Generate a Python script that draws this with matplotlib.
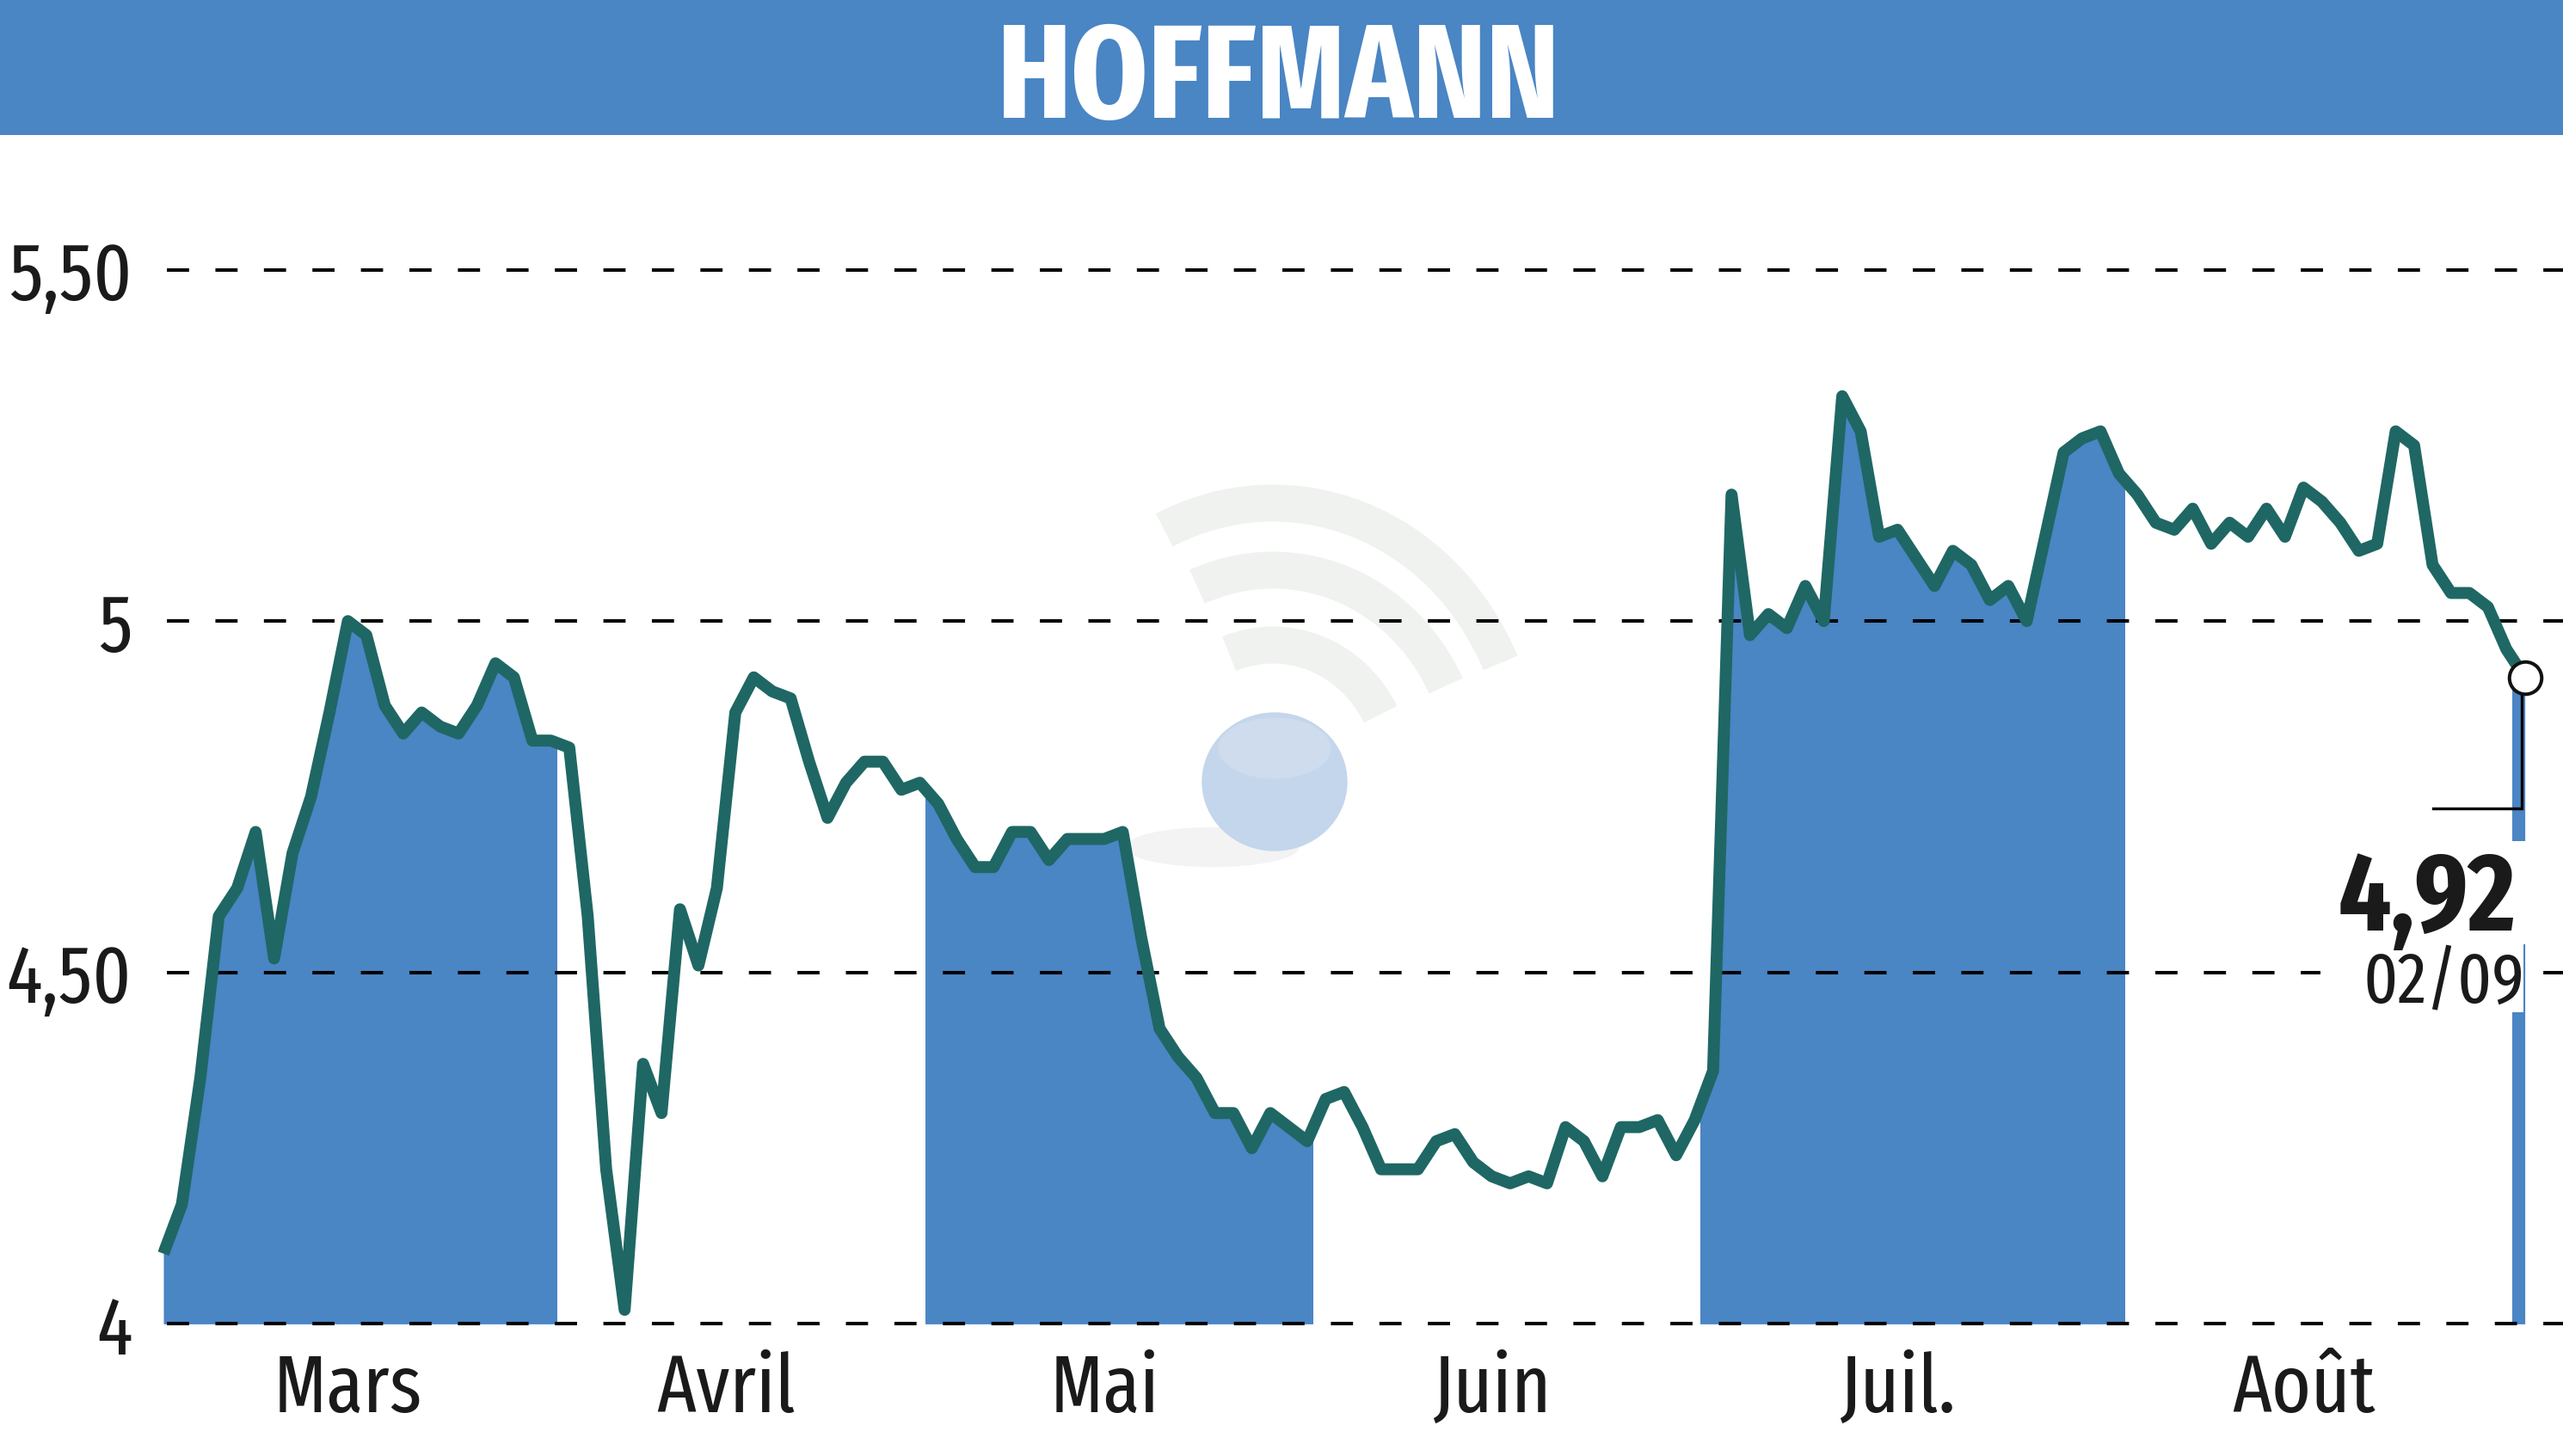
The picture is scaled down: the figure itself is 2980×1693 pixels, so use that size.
import os
import matplotlib
matplotlib.use('Agg')
import matplotlib.pyplot as plt
from matplotlib import font_manager
from matplotlib.font_manager import FontProperties
from matplotlib.patches import Rectangle, Arc, Ellipse
import numpy as np

# trading days per month, Mars -> 2 Sept
months = ['Mars', 'Avril', 'Mai', 'Juin', 'Juil.', 'Août', 'Sept.']
month_days = [21, 20, 21, 21, 23, 21, 2]

prices = [
    # Mars
    4.10, 4.17, 4.35, 4.58, 4.62, 4.70, 4.52, 4.67, 4.75, 4.87,
    5.00, 4.98, 4.88, 4.84, 4.87, 4.85, 4.84, 4.88, 4.94, 4.92, 4.83,
    # Avril
    4.83, 4.82, 4.58, 4.22, 4.02, 4.37, 4.30, 4.59, 4.51, 4.62,
    4.87, 4.92, 4.90, 4.89, 4.80, 4.72, 4.77, 4.80, 4.80, 4.76,
    # Mai
    4.77, 4.74, 4.69, 4.65, 4.65, 4.70, 4.70, 4.66, 4.69, 4.69,
    4.69, 4.70, 4.55, 4.42, 4.38, 4.35, 4.30, 4.30, 4.25, 4.30, 4.28,
    # Juin
    4.26, 4.32, 4.33, 4.28, 4.22, 4.22, 4.22, 4.26, 4.27, 4.23,
    4.21, 4.20, 4.21, 4.20, 4.28, 4.26, 4.21, 4.28, 4.28, 4.29, 4.24,
    # Juil.
    4.29, 4.36, 5.18, 4.98, 5.01, 4.99, 5.05, 5.00, 5.32, 5.27,
    5.12, 5.13, 5.09, 5.05, 5.10, 5.08, 5.03, 5.05, 5.00, 5.12,
    5.24, 5.26, 5.27,
    # Août
    5.21, 5.18, 5.14, 5.13, 5.16, 5.11, 5.14, 5.12, 5.16, 5.12,
    5.19, 5.17, 5.14, 5.10, 5.11, 5.27, 5.25, 5.08, 5.04, 5.04, 5.02,
    # Sept.
    4.96, 4.92,
]

y_ticks = [4, 4.5, 5, 5.5]
y_labels = ['4', '4,50', '5', '5,50']
title = 'HOFFMANN'
last_label = '4,92'
last_date = '02/09'

blue = '#4a85c4'
teal = '#1f6764'
ink = '#1a1a1a'


# --- pick the narrowest proportional sans font we have -------------------
def narrow_rank(path):
    b = os.path.basename(path).lower().replace(' ', '').replace('-', '').replace('_', '')
    if 'mono' in b or 'italic' in b or 'oblique' in b or 'code' in b:
        return 0
    if 'serif' in b and 'sans' not in b:
        return 0
    if 'extracondensed' in b or 'ultracondensed' in b:
        return 3
    if 'semicondensed' in b:
        return 1
    if 'condensed' in b or 'narrow' in b:
        return 2
    return 0


def usable(path):
    try:
        f = font_manager.get_font(path)
        if not all(f.get_char_index(ord(c)) for c in 'HOFMANJûil0123456789,/'):
            return False
        f.set_size(100, 72)
        adv_i = f.load_char(ord('i')).linearHoriAdvance
        adv_m = f.load_char(ord('M')).linearHoriAdvance
        return adv_m > 1.4 * adv_i  # skip monospaced faces
    except Exception:
        return False


def weight_num(w):
    if isinstance(w, (int, float)):
        return w
    return font_manager.weight_dict.get(w, 400)


def pick_font(bold):
    target = 700 if bold else 400
    best = None
    for f in font_manager.fontManager.ttflist:
        r = narrow_rank(f.fname)
        if r == 0 or f.style != 'normal':
            continue
        if not usable(f.fname):
            continue
        score = (r, 'Sans' in f.name, -abs(weight_num(f.weight) - target), -len(f.name))
        if best is None or score > best[0]:
            best = (score, f.fname)
    if best:
        return best[1]
    return font_manager.findfont(FontProperties(family='Roboto', weight='bold' if bold else 'normal'))


reg_path = pick_font(False)
bold_path = pick_font(True)


def cap_ratio(path):
    f = font_manager.get_font(path)
    f.set_size(1000, 72)
    g = f.load_char(ord('H'))
    return g.height / 64 / 1000


def ink_width(path, s, pt):
    f = font_manager.get_font(path)
    f.set_size(pt, 100)
    f.set_text(s)
    return f.get_width_height()[0] / 64


def fit(path, s, cap_px, width_px, max_w=None):
    # size from cap height, shrunk part way when the font is wider than the original
    pt = cap_px / cap_ratio(path) * 0.72
    w = ink_width(path, s, pt)
    k = min(1.0, (width_px / w) ** 0.6)
    if max_w:
        k = min(k, max_w / w)
    return pt * k


fp_y = FontProperties(fname=reg_path, size=fit(reg_path, '5,50', 77, 128, max_w=145))
fp_x = FontProperties(fname=reg_path, size=fit(reg_path, 'Mars', 75, 158))
fp_title = FontProperties(fname=bold_path, size=fit(bold_path, title, 112, 637))
fp_last = FontProperties(fname=bold_path, size=fit(bold_path, last_label, 92, 203))
fp_date = FontProperties(fname=reg_path, size=fit(reg_path, last_date, 65, 173))

W, H = 2980, 1693
fig = plt.figure(figsize=(W / 100, H / 100), dpi=100)

# title bar
bar_h = 157
fig.add_artist(Rectangle((0, 1 - bar_h / H), 1, bar_h / H, transform=fig.transFigure,
                         facecolor=blue, edgecolor='none', zorder=0))
fig.text(0.499, 1 - 137 / H, title, ha='center', va='baseline', color='white',
         fontproperties=fp_title)

# plot area (pixels measured on the reference)
left_px, bottom_px, top_px = 184, 1539.4, 158
ax = fig.add_axes([left_px / W, 1 - bottom_px / H, 1 - left_px / W, (bottom_px - top_px) / H])
px_per_day = 21.45
first_px = 190
px_per_unit = 817.2

x = np.arange(len(prices))
ax.set_xlim((left_px - first_px) / px_per_day, (W - first_px) / px_per_day)
ax.set_ylim(4, 4 + (bottom_px - top_px) / px_per_unit)

# alternate month shading
starts = np.cumsum([0] + month_days[:-1])
for i in range(0, len(months), 2):
    x0 = ax.get_xlim()[0] if i == 0 else starts[i] + 0.3
    x1 = starts[i + 1] + 0.3 if i + 1 < len(months) else x[-1] + 0.1
    poly = ax.fill_between(x, prices, 4, color=blue, lw=0, zorder=1)
    poly.set_clip_path(Rectangle((x0, 4), x1 - x0, 2, transform=ax.transData))

# grid
for yv in y_ticks:
    ax.axhline(yv, color='black', lw=2.9, linestyle=(11.5, (6.4, 7.6)),
               zorder=2, clip_on=False)


# watermark
def px(xp, yp):
    return (xp / 100, (H - yp) / 100)


wm = '#f0f2f0'
for (w, h, t1, t2) in [(5.8, 6.3, 26, 114), (4.46, 4.74, 27, 112), (2.82, 3.0, 29, 110)]:
    ax.add_patch(Arc(px(1480, 900), w, h, theta1=t1, theta2=t2, lw=31, color=wm,
                     transform=fig.dpi_scale_trans, zorder=0.5))
ax.add_patch(Ellipse(px(1410, 985), 2.0, 0.45, color='#f3f3f3',
                     transform=fig.dpi_scale_trans, zorder=0.5))
ax.add_patch(Ellipse(px(1482, 909), 1.68, 1.60, color='#c3d6ec',
                     transform=fig.dpi_scale_trans, zorder=0.6))
ax.add_patch(Ellipse(px(1482, 870), 1.30, 0.70, color='#cedcee',
                     transform=fig.dpi_scale_trans, zorder=0.6))

# price line
ax.plot(x, prices, color=teal, lw=10, solid_joinstyle='round', solid_capstyle='butt', zorder=3)

# last value marker and label
xl, yl = x[-1], prices[-1]
ax.plot([xl - 0.15, xl - 0.15, xl - 4.95], [yl, yl - 0.186, yl - 0.186],
        color='black', lw=2.4, zorder=4, solid_joinstyle='miter')
ax.plot(xl, yl, 'o', ms=27, mfc='white', mec='#111111', mew=2.9, zorder=5)
ax.add_patch(Rectangle((117.0, 4.540), 11.2, 0.147, facecolor='white', edgecolor='none', zorder=4))
ax.add_patch(Rectangle((116.9, 4.4436), 11.03, 0.0964, facecolor='white', edgecolor='none', zorder=4))
ax.text(xl - 0.5, 4.5598, last_label, ha='right', va='baseline', color=ink, zorder=6,
        fontproperties=fp_last)
ax.text(xl, 4.456, last_date, ha='right', va='baseline', color=ink, zorder=6,
        fontproperties=fp_date)

# axes
ax.set_yticks(y_ticks, y_labels, fontproperties=fp_y, color=ink)
centers = [(starts[i] + starts[i] + month_days[i] - 1) / 2 for i in range(6)]
ax.set_xticks(centers, months[:6], fontproperties=fp_x, color=ink)
ax.tick_params(axis='y', length=0, pad=22)
ax.tick_params(axis='x', length=0, pad=23)
for s in ax.spines.values():
    s.set_visible(False)
ax.patch.set_alpha(0)

fig.savefig('out.png', dpi=100)
